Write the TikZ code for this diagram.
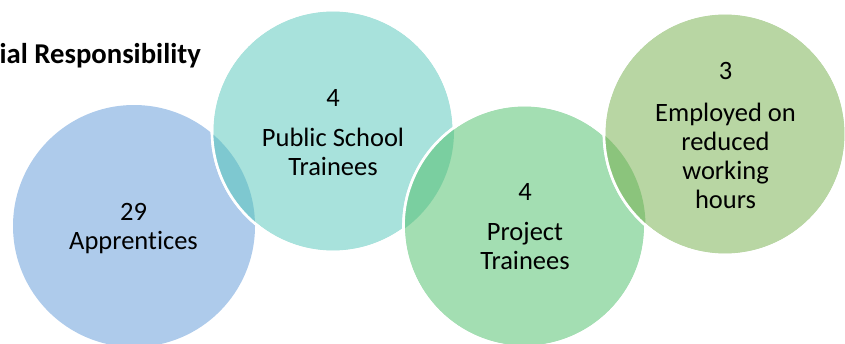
\documentclass[tikz,border=0pt]{standalone}
\usepackage{fontspec}
\setmainfont{Carlito}[Ligatures={NoCommon}]
\definecolor{cblue}{HTML}{AECBEB}
\definecolor{cteal}{HTML}{A8E2DC}
\definecolor{cgreen}{HTML}{A3DEB2}
\definecolor{colive}{HTML}{B8D6A3}
\definecolor{ovbt}{HTML}{7EC8D0}
\definecolor{ovtg}{HTML}{7ACFA0}
\definecolor{ovgo}{HTML}{8BC47C}
\begin{document}
\begin{tikzpicture}[x=1pt,y=-1pt,
  bubble/.style={circle, minimum size=242pt, inner sep=0pt},
  rim/.style={draw=white, line width=2.6pt},
  label/.style={align=center, font=\fontsize{26.5}{29}\selectfont, text=black, inner sep=0pt}]
\useasboundingbox (0,0) rectangle (845,343);
\clip (0,0) rectangle (845,343);
% circles
\node[bubble, fill=cblue] (c1) at (134,226) {};
\node[bubble, fill=cteal, rim] (c2) at (333,131) {};
\begin{scope}
  \clip (134,226) circle [radius=121pt];
  \fill[ovbt] (333,131) circle [radius=121pt];
\end{scope}
\draw[rim] (c2.center) circle [radius=121pt];
\node[bubble, fill=cgreen, rim] (c3) at (524.5,226) {};
\begin{scope}
  \clip (333,131) circle [radius=121pt];
  \fill[ovtg] (524.5,226) circle [radius=121pt];
\end{scope}
\draw[rim] (c3.center) circle [radius=121pt];
\node[bubble, fill=colive, rim] (c4) at (725,134) {};
\begin{scope}
  \clip (524.5,226) circle [radius=121pt];
  \fill[ovgo] (725,134) circle [radius=121pt];
\end{scope}
\draw[rim] (c4.center) circle [radius=121pt];
% texts
\node[label] (t1) at (133.5,228.5) {29\\Apprentices};
\node[label] (t2) at (333,132.5) {4\\[11pt]Public School\\Trainees};
\node[label] (t3) at (525,226.5) {4\\[11pt]Project\\Trainees};
\node[label] (t4) at (725.5,135) {3\\[13pt]Employed on\\reduced\\working\\hours};
\node[anchor=base east, inner sep=0pt, font=\bfseries\fontsize{28.7}{31}\selectfont] (title) at (201,63) {ial Responsibility};
\end{tikzpicture}
\end{document}
